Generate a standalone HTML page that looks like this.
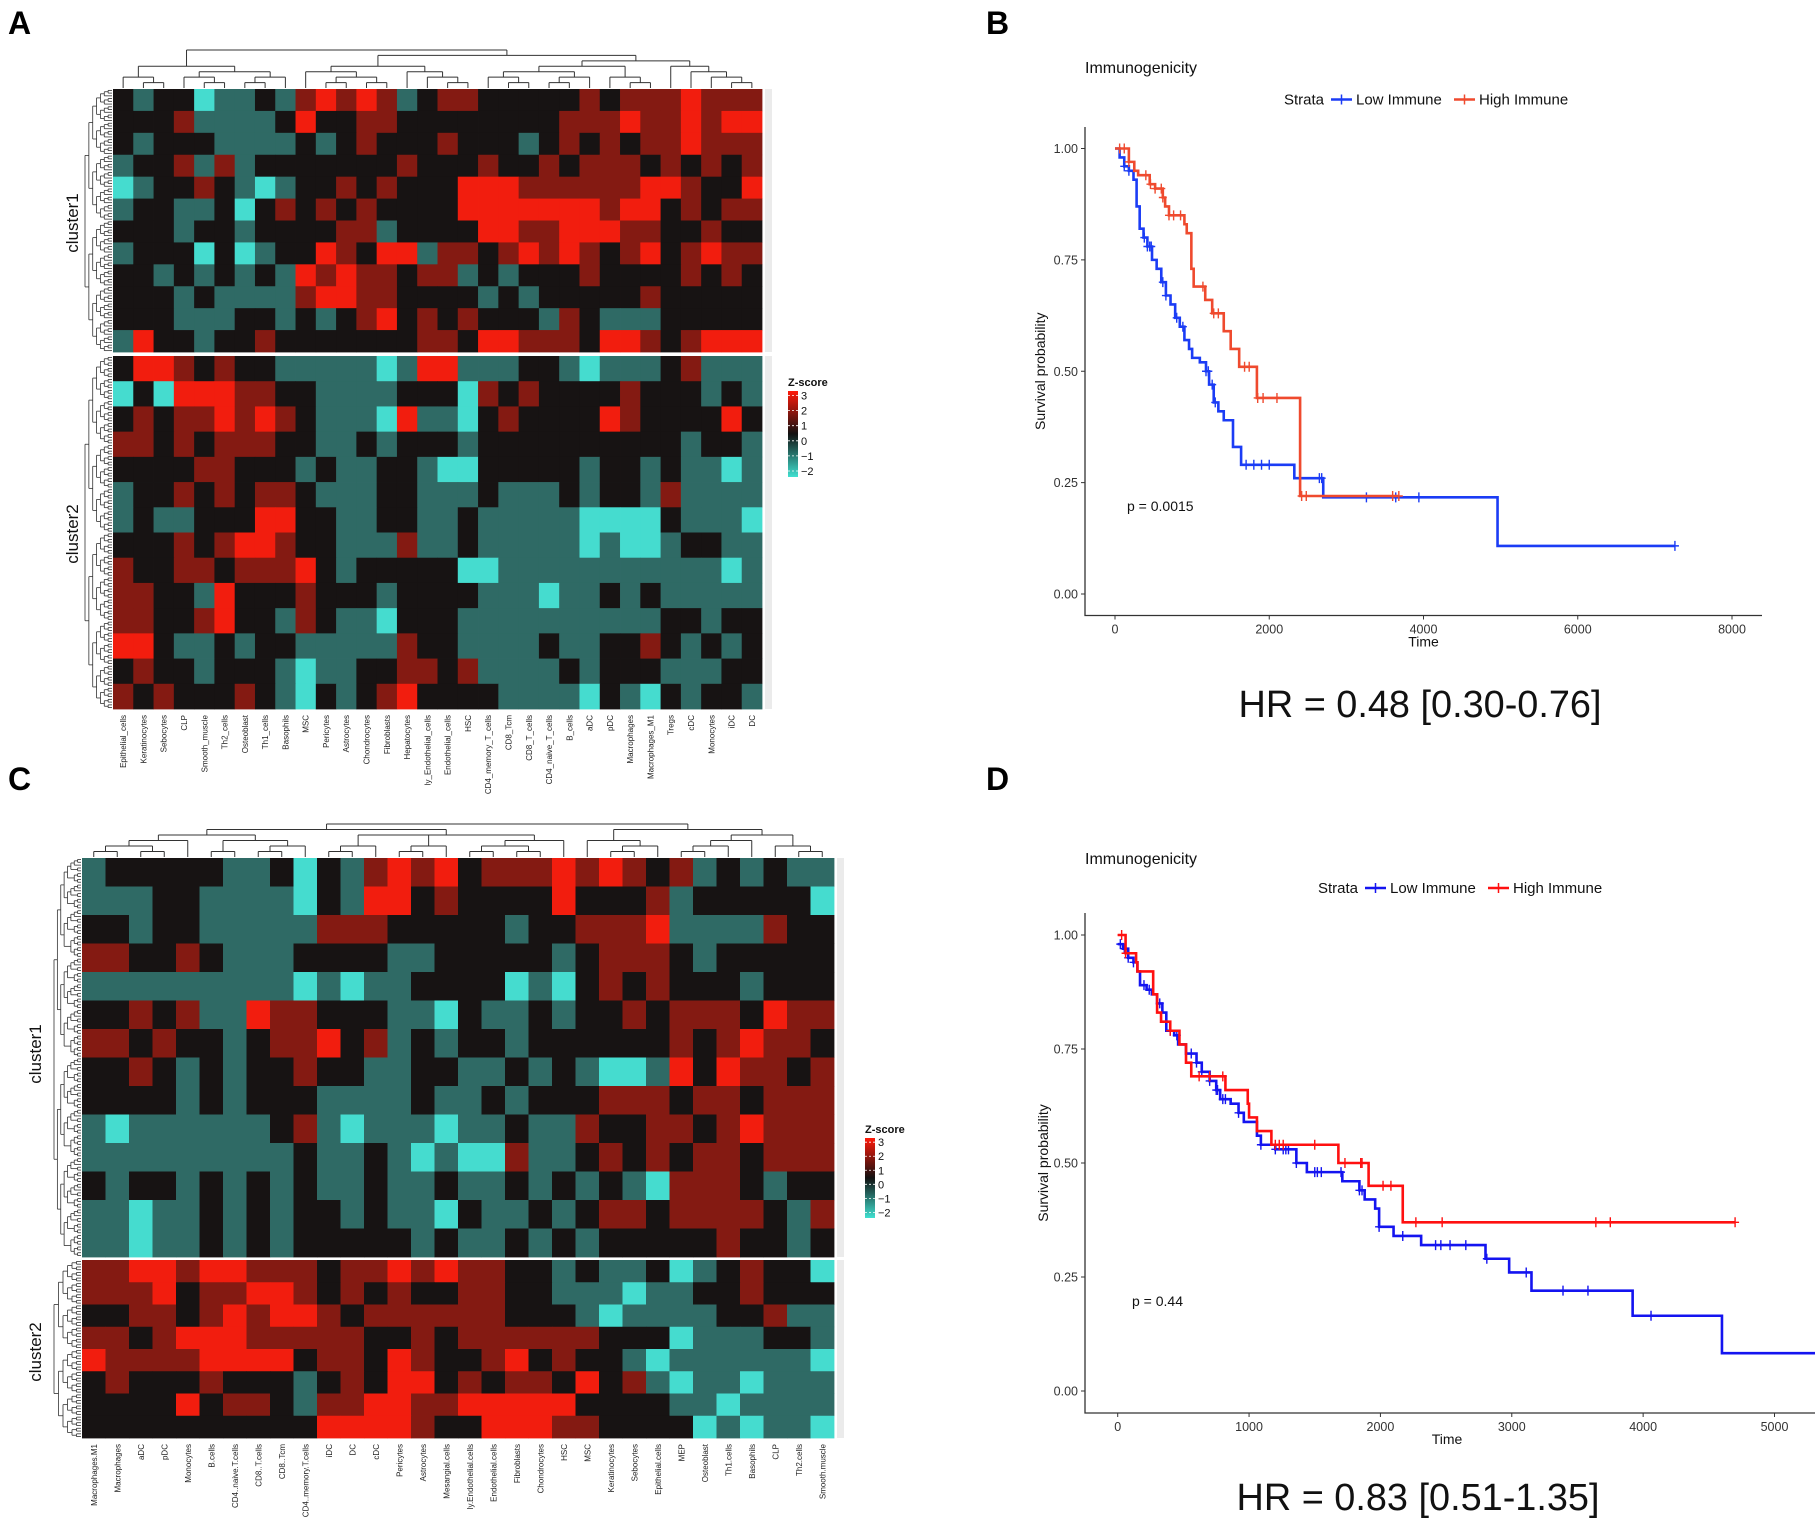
<!DOCTYPE html>
<html><head><meta charset="utf-8"><style>
html,body{margin:0;padding:0;background:#fff}
svg{display:block}
text{font-family:"Liberation Sans",sans-serif}
</style></head><body>
<svg id="fig" xmlns="http://www.w3.org/2000/svg" width="1815" height="1526" viewBox="0 0 1815 1526">
<rect width="1815" height="1526" fill="#fff"/>
<text x="8" y="34" font-size="32" font-weight="bold">A</text>
<text x="986" y="34" font-size="32" font-weight="bold">B</text>
<text x="8" y="790" font-size="32" font-weight="bold">C</text>
<text x="986" y="790" font-size="32" font-weight="bold">D</text>
<g id="layer"></g>
</svg>
<script>
// ---------- heatmap data ----------
const colsA = ["Epithelial_cells","Keratinocytes","Sebocytes","CLP","Smooth_muscle","Th2_cells","Osteoblast","Th1_cells","Basophils","MSC","Pericytes","Astrocytes","Chondrocytes","Fibroblasts","Hepatocytes","ly_Endothelial_cells","Endothelial_cells","HSC","CD4_memory_T_cells","CD8_Tcm","CD8_T_cells","CD4_naive_T_cells","B_cells","aDC","pDC","Macrophages","Macrophages_M1","Tregs","cDC","Monocytes","iDC","DC"];
const colsC = ["Macrophages.M1","Macrophages","aDC","pDC","Monocytes","B.cells","CD4..naive.T.cells","CD8..T.cells","CD8..Tcm","CD4..memory.T.cells","iDC","DC","cDC","Pericytes","Astrocytes","Mesangial.cells","ly.Endothelial.cells","Endothelial.cells","Fibroblasts","Chondrocytes","HSC","MSC","Keratinocytes","Sebocytes","Epithelial.cells","MEP","Osteoblast","Th1.cells","Basophils","CLP","Th2.cells","Smooth.muscle"];
const aCluster1 = [
"21220112134343123322222323334333","22231111242233222222223334334344","21222111121232223222123232334333",
"12231312222222322232232333232323","01223210122323222444333333443224","12211202323232222444444434423233",
"22212212222331222244334443322322","12220201224324413323434323423433","22121212143433233121222322223232",
"22212111134433222212122222322222","22211122121234232322213211122222","14221223222222233244333244323444"];
const aCluster2 = [
"24432322111110144111221011123111","02044433221111222032322223222121","23233434321110411023222243222242",
"33232333221121222122222222221221","22223322212112210022222122121101","12232323321112211121112122131111",
"12112224422112211211111000021110","22232344322111311211111010012211","32233233342122222001111111111101",
"33221422232221222211101121211111","33223422132110222111111111122122","44211212211111322111121122321212",
"23221222101122332311112122211122","32322232102123422221111021021221"];
const cCluster1 = [
"12222211202134342333434323121211","11122111102144232222422231222220","22122111113332222212233341111322",
"33223211122221122222123332122222","11111111101011222201023232221222","22323114332221102112122323332433",
"33232212334231212212222223234332","22321212232211221121210014243323","22221212221111211212223332332333",
"10111111231011101121132233234333","11111111121121010031123232332333","21221212121121121121212103332122",
"11011212122121102112123323333213","11011212122222121121212222232212"];
const cCluster2 = [
"33443443332334343322121120123220","33342334432323223322111011223222","22332343443233333322210111122311",
"33234443333322323333332220111221","43333444423324322342322101111110","23222322212324423233242310110111",
"22224233213344334444422221101111","22222222224444322444332222010110"];
const legendTicks = [3,2,1,0,-1,-2];

// ---------- survival data ----------
const bLowT = [0,60,120,180,240,280,320,370,420,480,540,600,660,720,780,840,900,960,1000,1100,1180,1220,1280,1340,1410,1530,1635,2325,2700,4960];
const bLowS = [1.0,0.98,0.96,0.95,0.93,0.87,0.82,0.80,0.78,0.75,0.73,0.70,0.67,0.65,0.62,0.60,0.57,0.55,0.53,0.52,0.50,0.47,0.43,0.41,0.39,0.33,0.29,0.26,0.217,0.108];
const bLowEnd = 7260;
const bLowCens = [120,180,380,420,450,470,620,660,800,880,1180,1210,1260,1300,1700,1800,1900,2000,2650,2680,3260,3640,3940,7260];
const bHighT = [0,180,250,300,450,520,620,650,700,900,930,990,1020,1170,1260,1410,1500,1610,1840,2400,3160];
const bHighS = [1.0,0.97,0.95,0.94,0.92,0.91,0.89,0.87,0.85,0.83,0.81,0.73,0.69,0.66,0.63,0.59,0.55,0.51,0.44,0.22,0.22];
const bHighEnd = 3680;
const bHighCens = [60,120,180,400,460,520,600,620,700,760,850,1140,1280,1340,1680,1740,1850,1920,2100,2420,2480,3600,3680];
const bXTicks = [0,2000,4000,6000,8000];
const dLowT = [0,40,80,120,150,170,220,260,300,340,370,430,460,520,600,640,700,750,780,860,920,960,1060,1090,1200,1360,1440,1710,1840,1880,1960,1990,2100,2310,2800,2980,3150,3920,4600];
const dLowS = [0.98,0.97,0.95,0.94,0.92,0.89,0.88,0.87,0.85,0.83,0.79,0.78,0.76,0.74,0.72,0.70,0.68,0.66,0.64,0.63,0.61,0.59,0.56,0.54,0.53,0.50,0.48,0.46,0.44,0.42,0.40,0.36,0.34,0.32,0.29,0.26,0.22,0.165,0.083];
const dLowEnd = 5400;
const dLowCens = [20,50,80,120,200,240,320,400,450,560,600,640,700,750,760,800,820,920,1090,1200,1260,1280,1300,1360,1500,1520,1550,1700,1840,1860,1990,2170,2420,2460,2530,2650,2810,3110,3390,3580,4060];
const dHighT = [0,60,140,150,270,300,330,400,470,520,560,820,990,1000,1060,1170,1680,1910,2170];
const dHighS = [1.0,0.96,0.94,0.92,0.87,0.83,0.81,0.79,0.76,0.72,0.69,0.66,0.63,0.60,0.57,0.54,0.50,0.45,0.37];
const dHighEnd = 4700;
const dHighCens = [30,60,400,620,700,800,1200,1230,1260,1500,1730,1850,1860,2020,2080,2270,2470,3640,3750,4700];
const dXTicks = [0,1000,2000,3000,4000,5000];
const yTicks = [0,0.25,0.5,0.75,1.0];

// ---------- helpers ----------
const NS = "http://www.w3.org/2000/svg";
const layer = document.getElementById("layer");
function mk(tag, attrs, parent, txt){
  const e = document.createElementNS(NS, tag);
  for (const k in attrs) e.setAttribute(k, attrs[k]);
  if (txt !== undefined) e.textContent = txt;
  (parent || layer).appendChild(e);
  return e;
}
const pal = ["#45dccf","#2f6a65","#171313","#841a12","#f21d0e"];

function heatmap(name, cols, bandsTop, bandsBot, x0, x1, yt0, yt1, yb0, yb1){
  const g = mk("g", {});
  
  
  const cw = (x1 - x0) / cols.length;
  function drawBlock(bands, y0, y1){
    const bh = (y1 - y0) / bands.length;
    bands.forEach((row, bi) => {
      for (let ci = 0; ci < cols.length; ci++){
        const v = +row[ci];
        const r = mk("rect", {x:(x0+ci*cw).toFixed(2), y:(y0+bi*bh).toFixed(2), width:(cw+0.4).toFixed(2), height:(bh+0.4).toFixed(2), fill:pal[v]}, g);
        
        
      }
    });
  }
  drawBlock(bandsTop, yt0, yt1);
  drawBlock(bandsBot, yb0, yb1);
  cols.forEach((c, i) => {
    const cx = x0 + (i + 0.5) * cw + 3;
    const t = mk("text", {x:0, y:0, "font-size":"8", fill:"#222", "text-anchor":"end", transform:`translate(${cx.toFixed(1)},${yb1+6}) rotate(-90)`}, g, c);
    
    
  });
  const s1 = mk("rect", {x:x1+3, y:yt0, width:7, height:yt1-yt0, fill:"#ebebeb"}, g);
  
  
  const s2 = mk("rect", {x:x1+3, y:yb0, width:7, height:yb1-yb0, fill:"#ebebeb"}, g);
  
  
  return cw;
}

function colDendro(name, tree, x0, cw, baseY, topY){
  const g = mk("g", {stroke:"#333", "stroke-width":"1", fill:"none"});
  
  
  function depth(n){ return Array.isArray(n) ? 1 + Math.max(...n.map(depth)) : 0; }
  const maxD = depth(tree);
  const unit = (baseY - topY) / maxD;
  function draw(n){
    if (!Array.isArray(n)) return {x: x0 + (n + 0.5) * cw, y: baseY};
    const ch = n.map(draw);
    const y = baseY - depth(n) * unit;
    ch.forEach(c => mk("line", {x1:c.x, y1:c.y, x2:c.x, y2:y}, g));
    mk("line", {x1:ch[0].x, y1:y, x2:ch[ch.length-1].x, y2:y}, g);
    return {x:(ch[0].x + ch[ch.length-1].x) / 2, y};
  }
  draw(tree);
}

function rowDendro(name, y0, y1, xRight, width, n){
  const g = mk("g", {stroke:"#333", "stroke-width":"0.8", fill:"none"});
  
  
  const step = (y1 - y0) / n;
  const maxL = Math.ceil(Math.log2(n));
  function draw(a, b){
    if (b - a <= 1) return {y: y0 + (a + 0.5) * step, x: xRight};
    const m = a + Math.ceil((b - a) / 2);
    const c1 = draw(a, m), c2 = draw(m, b);
    const lv = Math.ceil(Math.log2(b - a));
    const x = xRight - width * lv / maxL;
    mk("line", {x1:c1.x, y1:c1.y, x2:x, y2:c1.y}, g);
    mk("line", {x1:c2.x, y1:c2.y, x2:x, y2:c2.y}, g);
    mk("line", {x1:x, y1:c1.y, x2:x, y2:c2.y}, g);
    return {x, y:(c1.y + c2.y) / 2};
  }
  return draw(0, n);
}

function legend(name, x, y0, y1){
  const g = mk("g", {});
  
  
  const id = name + "-grad";
  const defs = mk("defs", {}, g);
  const lg = mk("linearGradient", {id, x1:0, y1:0, x2:0, y2:1}, defs);
  mk("stop", {offset:"0", "stop-color":"#ff1a0a"}, lg);
  mk("stop", {offset:"0.5", "stop-color":"#111"}, lg);
  mk("stop", {offset:"1", "stop-color":"#40e0d0"}, lg);
  const t = mk("text", {x:x, y:y0-5, "font-size":"11", "font-weight":"bold", fill:"#111"}, g, "Z-score");
  
  
  mk("rect", {x, y:y0, width:10, height:y1-y0, fill:`url(#${id})`}, g);
  const vmax = 3.3, vmin = -2.4;
  legendTicks.forEach(v => {
    const yy = y0 + (vmax - v) / (vmax - vmin) * (y1 - y0);
    mk("line", {x1:x, x2:x+10, y1:yy, y2:yy, stroke:"#fff", "stroke-width":"0.8", "stroke-dasharray":"2,2"}, g);
    const l = mk("text", {x:x+13, y:yy+4, "font-size":"11", fill:"#111"}, g, v < 0 ? "\u2212" + (-v) : String(v));
    
    
  });
}

// ---------- panel A ----------
const cwA = heatmap("heatmap-a", colsA, aCluster1, aCluster2, 113, 762, 89, 352, 356, 709);
colDendro("column-dendrogram-a",
  [[[0,[1,2]],[[3,[4,5]],[[6,7],8]]],[[[9,[[10,11],[12,13]]],[14,[15,[16,17]]]],[[[[18,[19,20]],[[21,22],23]],[24,[25,26]]],[27,[28,[29,[30,31]]]]]]],
  113, cwA, 88, 50);
rowDendro("row-dendrogram-a-1", 89, 352, 112, 27, 96);
rowDendro("row-dendrogram-a-2", 356, 709, 112, 27, 128);
mk("text", {x:0, y:0, "font-size":"17", fill:"#111", "text-anchor":"middle", transform:"translate(78,223) rotate(-90)",  }, null, "cluster1");
mk("text", {x:0, y:0, "font-size":"17", fill:"#111", "text-anchor":"middle", transform:"translate(78,534) rotate(-90)",  }, null, "cluster2");
legend("zscore-legend-a", 788, 391, 477);

// ---------- panel C ----------
const cwC = heatmap("heatmap-c", colsC, cCluster1, cCluster2, 82, 834, 858, 1257, 1260, 1438);
colDendro("column-dendrogram-c",
  [[[[[[0,1],[2,3]],4],[[5,6],[[7,8],9]]],[[[10,11],12],[[13,14],15],[[[16,17],[18,19]],20]]],[[21,[[22,23],24]],[[[[25,26],27],28],[29,[30,31]]]]],
  82, cwC, 857, 824);
rowDendro("row-dendrogram-c-1", 858, 1257, 81, 27, 140);
rowDendro("row-dendrogram-c-2", 1260, 1438, 81, 27, 64);
mk("text", {x:0, y:0, "font-size":"17", fill:"#111", "text-anchor":"middle", transform:"translate(41,1054) rotate(-90)",  }, null, "cluster1");
mk("text", {x:0, y:0, "font-size":"17", fill:"#111", "text-anchor":"middle", transform:"translate(41,1352) rotate(-90)",  }, null, "cluster2");
legend("zscore-legend-c", 865, 1138, 1218);

// ---------- KM panels ----------
function km(cfg){
  const g = mk("g", {});
  
  
  const X = t => cfg.x0 + (t - cfg.t0) / (cfg.t1 - cfg.t0) * (cfg.x1 - cfg.x0);
  const Y = s => cfg.y0 + (1 - s) * (cfg.y1 - cfg.y0);
  const cid = cfg.name + "-clip";
  const defs = mk("defs", {}, g);
  const cp = mk("clipPath", {id:cid}, defs);
  mk("rect", {x:cfg.axL, y:cfg.axT, width:cfg.axR-cfg.axL, height:cfg.axB-cfg.axT}, cp);
  const ax = mk("path", {d:`M${cfg.axL},${cfg.axT} V${cfg.axB} H${cfg.axR}`, stroke:"#333", "stroke-width":"1.3", fill:"none"}, g);
  
  
  yTicks.forEach(v => {
    mk("line", {x1:cfg.axL-4, x2:cfg.axL, y1:Y(v), y2:Y(v), stroke:"#333"}, g);
    const t = mk("text", {x:cfg.axL-7, y:Y(v)+4.5, "font-size":"12.5", fill:"#333", "text-anchor":"end"}, g, v.toFixed(2));
    
    
  });
  cfg.xticks.forEach(v => {
    mk("line", {x1:X(v), x2:X(v), y1:cfg.axB, y2:cfg.axB+4, stroke:"#333"}, g);
    const t = mk("text", {x:X(v), y:cfg.axB+18, "font-size":"12.5", fill:"#333", "text-anchor":"middle"}, g, String(v));
    
    
  });
  const xt = mk("text", {x:(cfg.axL+cfg.axR)/2 + cfg.timeDx, y:cfg.axB+31, "font-size":"14", fill:"#111", "text-anchor":"middle"}, g, "Time");
  
  
  const yl = mk("text", {x:0, y:0, "font-size":"14", fill:"#111", "text-anchor":"middle", transform:`translate(${cfg.ylx},${(cfg.axT+cfg.axB)/2}) rotate(-90)`}, g, "Survival probability");
  
  
  const ti = mk("text", {x:cfg.axL, y:cfg.titleY, "font-size":"16", fill:"#111"}, g, "Immunogenicity");
  
  
  const lx = cfg.legX, ly = cfg.legY;
  const st = mk("text", {x:lx, y:ly+5, "font-size":"15", fill:"#111"}, g, "Strata");
  
  
  const lw = 25;
  [[cfg.blue, "Low Immune", lx+47],[cfg.red, "High Immune", lx+47+lw+98]].forEach(([c, lab, px]) => {
    const e = mk("g", {}, g);
    
    
    mk("line", {x1:px, x2:px+lw-4, y1:ly, y2:ly, stroke:c, "stroke-width":"2.5"}, e);
    mk("line", {x1:px+(lw-4)/2, x2:px+(lw-4)/2, y1:ly-5, y2:ly+5, stroke:c, "stroke-width":"1.5"}, e);
    mk("text", {x:px+lw, y:ly+5, "font-size":"15", fill:"#111"}, e, lab);
  });
  function curve(T, S, end, cens, col, nm){
    const cg = mk("g", {"clip-path":`url(#${cid})`}, g);
    
    
    let d = `M${X(T[0])},${Y(S[0])}`;
    for (let i = 1; i < T.length; i++) d += ` H${X(T[i]).toFixed(2)} V${Y(S[i]).toFixed(2)}`;
    d += ` H${X(end).toFixed(2)}`;
    mk("path", {d, stroke:col, "stroke-width":"2.6", fill:"none"}, cg);
    const sAt = t => { let s = S[0]; for (let i = 0; i < T.length; i++) if (T[i] <= t) s = S[i]; return s; };
    cens.forEach(t => {
      const cx = X(t), cy = Y(sAt(t));
      const m = mk("path", {d:`M${cx-4},${cy} H${cx+4} M${cx},${cy-5} V${cy+5}`, stroke:col, "stroke-width":"1.4", fill:"none"}, cg);
      
      
    });
  }
  curve(cfg.lowT, cfg.lowS, cfg.lowEnd, cfg.lowCens, cfg.blue, "low-immune-curve");
  curve(cfg.highT, cfg.highS, cfg.highEnd, cfg.highCens, cfg.red, "high-immune-curve");
  const p = mk("text", {x:cfg.px, y:cfg.py, "font-size":"14", fill:"#111"}, g, cfg.ptext);
  
  
  const hr = mk("text", {x:cfg.hrx, y:cfg.hry, "font-size":"38", fill:"#111", "text-anchor":"middle", textLength:"363", lengthAdjust:"spacingAndGlyphs"}, g, cfg.hr);
  
  
}

km({name:"km-plot-b", t0:0, t1:8000, x0:1115, x1:1732, y0:148.5, y1:594,
  axL:1085, axR:1762, axT:127, axB:615.5, xticks:bXTicks, timeDx:0, ylx:1045, titleY:73,
  legX:1284, legY:99.5, blue:"#1b3cf5", red:"#ef4a2e",
  lowT:bLowT, lowS:bLowS, lowEnd:bLowEnd, lowCens:bLowCens,
  highT:bHighT, highS:bHighS, highEnd:bHighEnd, highCens:bHighCens,
  px:1127, py:511, ptext:"p = 0.0015", hrx:1420, hry:717, hr:"HR = 0.48 [0.30-0.76]"});

km({name:"km-plot-d", t0:0, t1:5000, x0:1117.7, x1:1774.5, y0:935, y1:1391,
  axL:1085, axR:1815, axT:913, axB:1413, xticks:dXTicks, timeDx:-3, ylx:1048, titleY:864,
  legX:1318, legY:888, blue:"#1414f0", red:"#ff1010",
  lowT:dLowT, lowS:dLowS, lowEnd:dLowEnd, lowCens:dLowCens,
  highT:dHighT, highS:dHighS, highEnd:dHighEnd, highCens:dHighCens,
  px:1132, py:1306, ptext:"p = 0.44", hrx:1418, hry:1510, hr:"HR = 0.83 [0.51-1.35]"});
</script>
</body></html>
